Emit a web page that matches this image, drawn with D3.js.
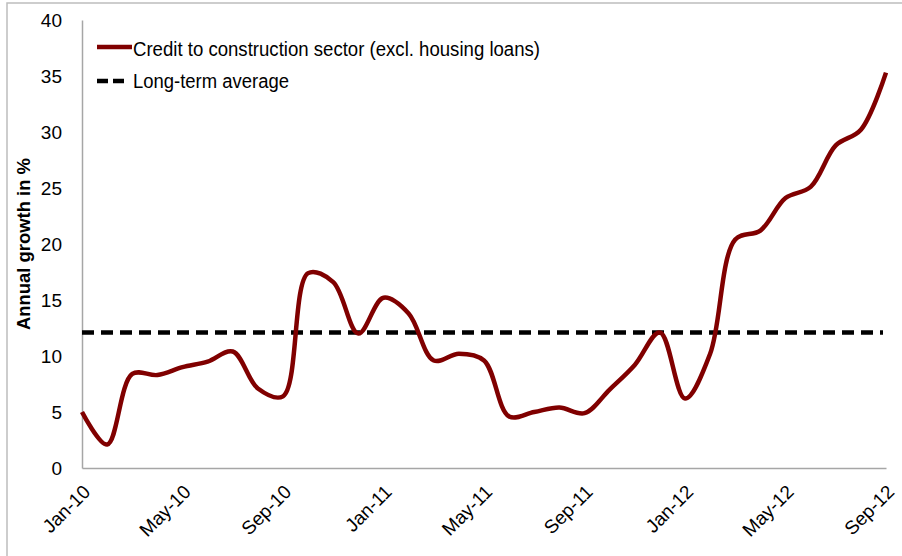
<!DOCTYPE html>
<html>
<head>
<meta charset="utf-8">
<script src="https://cdn.jsdelivr.net/npm/d3@7"></script>
<style>
  body { margin: 0; background: #fff; }
  svg text { font-family: "Liberation Sans Narrow", "Arial Narrow", "Liberation Sans", Arial, sans-serif; fill: #000; }
</style>
</head>
<body>
<script>
// monthly, Jan-10 .. Sep-12
const months = ["Jan-10","Feb-10","Mar-10","Apr-10","May-10","Jun-10","Jul-10","Aug-10","Sep-10","Oct-10","Nov-10","Dec-10",
  "Jan-11","Feb-11","Mar-11","Apr-11","May-11","Jun-11","Jul-11","Aug-11","Sep-11","Oct-11","Nov-11","Dec-11",
  "Jan-12","Feb-12","Mar-12","Apr-12","May-12","Jun-12","Jul-12","Aug-12","Sep-12"];
const creditGrowth = [5.0, 2.1, 8.4, 8.3, 9.0, 9.5, 10.4, 7.1, 6.4, 17.4, 16.6, 12.0,
  15.2, 13.8, 9.6, 10.2, 9.6, 4.6, 5.0, 5.4, 4.9, 7.0, 9.2, 12.1,
  6.2, 10.2, 20.4, 21.2, 24.1, 25.1, 28.8, 30.2, 35.3];
const longTermAverage = 12.1;
const yTicks = [0, 5, 10, 15, 20, 25, 30, 35, 40];
const xTickLabels = ["Jan-10","May-10","Sep-10","Jan-11","May-11","Sep-11","Jan-12","May-12","Sep-12"];
const seriesNames = ["Credit to construction sector (excl. housing loans)", "Long-term average"];

const width = 902, height = 556;
const margin = {left: 82, right: 16, top: 20, bottom: 88};

const svg = d3.select("body").append("svg")
  .attr("width", width)
  .attr("height", height);

// outer frame
svg.append("rect")
  .attr("x", 7).attr("y", 3)
  .attr("width", 1200).attr("height", 1200)
  .attr("fill", "none")
  .attr("stroke", "#bdbdbd")
  .attr("stroke-width", 1.5);

const x = d3.scalePoint()
  .domain(months)
  .range([margin.left, width - margin.right]);

const y = d3.scaleLinear()
  .domain([0, 40])
  .range([height - margin.bottom, margin.top]);

// y axis
const yAxis = svg.append("g")
  .attr("transform", `translate(${margin.left},0)`)
  .call(d3.axisLeft(y).tickValues(yTicks).tickSize(0).tickPadding(20));
yAxis.select(".domain").attr("stroke", "#a6a6a6").attr("stroke-width", 1.5);
yAxis.selectAll("text").style("font-size", "19px");

// x axis
const xAxis = svg.append("g")
  .attr("transform", `translate(0,${y(0)})`)
  .call(d3.axisBottom(x).tickValues(xTickLabels).tickSize(0).tickPadding(0));
xAxis.select(".domain").attr("stroke", "#a6a6a6").attr("stroke-width", 1.5);
xAxis.selectAll("text")
  .style("font-size", "19px")
  .attr("text-anchor", "end")
  .attr("dy", null)
  .attr("y", 0)
  .attr("transform", "translate(9,25) rotate(-45)");

// axis title
svg.append("text")
  .attr("transform", `translate(30,${(y(0) + y(40)) / 2}) rotate(-90)`)
  .attr("text-anchor", "middle")
  .style("font-size", "19px")
  .style("font-weight", "bold")
  .attr("textLength", 172)
  .attr("lengthAdjust", "spacingAndGlyphs")
  .text("Annual growth in %");

// long-term average
svg.append("line")
  .attr("x1", x(months[0]))
  .attr("x2", x(months[months.length - 1]) - 3)
  .attr("y1", y(longTermAverage))
  .attr("y2", y(longTermAverage))
  .attr("stroke", "#000")
  .attr("stroke-width", 4.5)
  .attr("stroke-dasharray", "12,7");

// credit line
const line = d3.line()
  .x((d, i) => x(months[i]))
  .y(d => y(d))
  .curve(d3.curveCatmullRom.alpha(0.5));

svg.append("path")
  .datum(creditGrowth)
  .attr("d", line)
  .attr("fill", "none")
  .attr("stroke", "#800000")
  .attr("stroke-width", 4.5)
  .attr("stroke-linejoin", "round");

// legend
const legend = svg.append("g");
legend.append("line")
  .attr("x1", 97).attr("x2", 132).attr("y1", 47).attr("y2", 47)
  .attr("stroke", "#800000").attr("stroke-width", 4.5);
legend.append("text")
  .attr("x", 133).attr("y", 56)
  .style("font-size", "20px")
  .attr("textLength", 407)
  .attr("lengthAdjust", "spacingAndGlyphs")
  .text(seriesNames[0]);
legend.append("line")
  .attr("x1", 97).attr("x2", 128).attr("y1", 81).attr("y2", 81)
  .attr("stroke", "#000").attr("stroke-width", 4.5)
  .attr("stroke-dasharray", "11,5");
legend.append("text")
  .attr("x", 133).attr("y", 88)
  .style("font-size", "20px")
  .attr("textLength", 156)
  .attr("lengthAdjust", "spacingAndGlyphs")
  .text(seriesNames[1]);
</script>
</body>
</html>
